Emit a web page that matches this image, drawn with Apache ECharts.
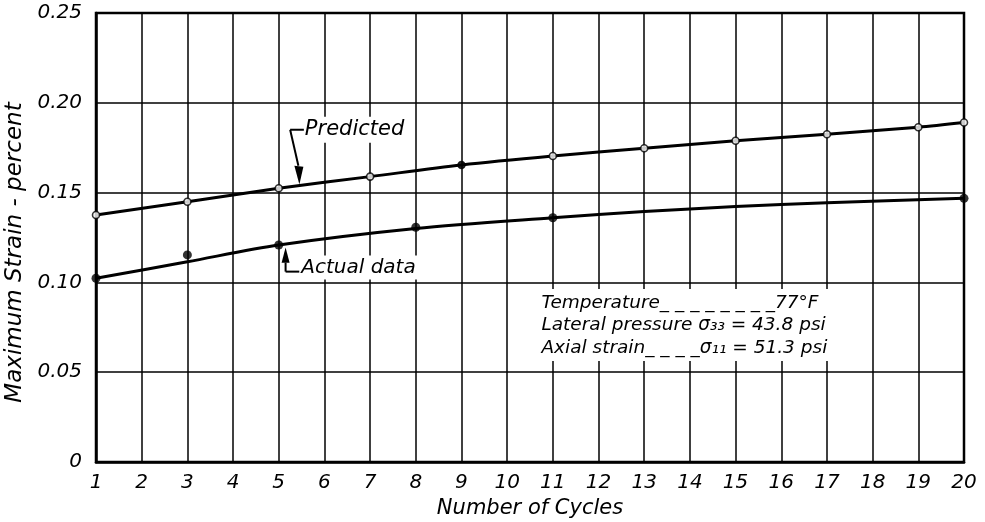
<!DOCTYPE html>
<html>
<head>
<meta charset="utf-8">
<script src="https://cdn.jsdelivr.net/npm/echarts@6/dist/echarts.min.js"></script>
<style>
html,body{margin:0;padding:0;background:#fff;}
#chart{width:985px;height:522px;}
</style>
</head>
<body>
<div id="chart"></div>
<script>
// ---- data ----
var cycleTicks = [1,2,3,4,5,6,7,8,9,10,11,12,13,14,15,16,17,18,19,20];
var strainTicks = [0, 0.05, 0.10, 0.15, 0.20, 0.25];
var predictedX = [1, 3, 5, 7, 9, 11, 13, 15, 17, 19, 20];
var predictedY = [0.1375, 0.1449, 0.1524, 0.1589, 0.1654, 0.1704, 0.1747, 0.1789, 0.1825, 0.1864, 0.1890];
var predictedFilled = [false, false, false, false, true, false, false, false, false, false, false];
var actualX = [1, 3, 5, 8, 11, 20];
var actualY = [0.1023, 0.1153, 0.1208, 0.1307, 0.1360, 0.1468];
var actualCurveX = [1, 3, 5, 8, 11, 13, 15, 17, 20];
var actualCurveY = [0.1023, 0.1115, 0.1208, 0.1300, 0.1360, 0.1395, 0.1422, 0.1443, 0.1468];
var labelPredicted = 'Predicted';
var labelActual = 'Actual data';
var noteLines = ['Temperature_ _ _ _ _ _ _ _77°F', 'Lateral pressure σ₃₃ = 43.8 psi', 'Axial strain_ _ _ _σ₁₁ = 51.3 psi'];

var FONT = 'DejaVu Sans';
function pairs(xs, ys){ return xs.map(function(x,i){ return [x, ys[i]]; }); }

var chart = echarts.init(document.getElementById('chart'), null, {renderer:'canvas'});
var option = {
  backgroundColor: '#fff',
  animation: false,
  grid: {left: 96, right: 21, top: 13, bottom: 60, containLabel: false, outerBoundsMode: 'none',
         show: true, borderColor: '#000', borderWidth: 2.5, backgroundColor: 'transparent'},
  xAxis: {
    type: 'value', min: cycleTicks[0], max: cycleTicks[cycleTicks.length-1], interval: 1,
    name: 'Number of Cycles', nameLocation: 'middle', nameGap: 36,
    nameTextStyle: {fontFamily: FONT, fontStyle: 'italic', fontSize: 21, color: '#000'},
    axisLine: {show: true, lineStyle: {color: '#000', width: 2.5}},
    axisTick: {show: false},
    axisLabel: {fontFamily: FONT, fontStyle: 'italic', fontSize: 20, color: '#000', margin: 11},
    splitLine: {show: true, lineStyle: {color: '#000', width: 1.5}}
  },
  yAxis: {
    type: 'value', min: strainTicks[0], max: strainTicks[strainTicks.length-1], interval: 0.05,
    name: 'Maximum Strain - percent', nameLocation: 'middle', nameGap: 56,
    nameTextStyle: {fontFamily: FONT, fontStyle: 'italic', fontSize: 23, color: '#000', padding: [0, 30, 0, 0]},
    axisLine: {show: true, lineStyle: {color: '#000', width: 2.5}},
    axisTick: {show: false},
    axisLabel: {fontFamily: FONT, fontStyle: 'italic', fontSize: 20, color: '#000', margin: 14,
      formatter: function(v){ return v === 0 ? '0' : v.toFixed(2); }},
    splitLine: {show: true, lineStyle: {color: '#000', width: 1.5}}
  },
  series: [
    {type: 'line', data: pairs(predictedX, predictedY), smooth: 0.3, showSymbol: false,
     lineStyle: {color: '#000', width: 3}, z: 3},
    {type: 'line', data: pairs(actualCurveX, actualCurveY), smooth: 0.3, showSymbol: false,
     lineStyle: {color: '#000', width: 3}, z: 3},
    {type: 'scatter', symbol: 'circle', symbolSize: 7, z: 5,
     data: predictedX.map(function(x,i){
       return {value: [x, predictedY[i]], itemStyle: predictedFilled[i] ? {color:'#000', borderColor:'#000', borderWidth:1.5} : {color:'#fff', borderColor:'#000', borderWidth:1.6}};
     })},
    {type: 'scatter', symbol: 'circle', symbolSize: 9, z: 5,
     itemStyle: {color: '#000'}, data: pairs(actualX, actualY)}
  ]
};
chart.setOption(option);

function px(x, y){ return chart.convertToPixel({gridIndex: 0}, [x, y]); }
var tStyle = {fontFamily: FONT, fontStyle: 'italic', fontSize: 20, fill: '#000'};
var g = [];
// Predicted leader
var pA = px(5.25, 0.1850), pB = px(5.55, 0.1850), pTip = px(5.43, 0.1545), pHead = px(5.43, 0.1650);
g.push({type:'rect', shape:{x:pA[0]-8, y:pA[1]-13, width:132, height:26}, style:{fill:'#fff'}, z:10});
g.push({type:'line', shape:{x1:pA[0], y1:pA[1], x2:pB[0], y2:pB[1]}, style:{stroke:'#000', lineWidth:2}, z:11});
g.push({type:'line', shape:{x1:pA[0], y1:pA[1], x2:pTip[0], y2:pHead[1]}, style:{stroke:'#000', lineWidth:2}, z:11});
g.push({type:'polygon', shape:{points:[[pTip[0]-4, pHead[1]], [pTip[0]+5, pHead[1]+1], [pTip[0]+1, pTip[1]]]}, style:{fill:'#000'}, z:11});
g.push({type:'text', x:pB[0]+1, y:pA[1], style:Object.assign({text:labelPredicted, verticalAlign:'middle'}, tStyle, {fontSize:21}), z:11});
// Actual leader
var aTip = px(5.15, 0.1195), aHead = px(5.15, 0.1110), aBot = px(5.15, 0.1060), aEnd = px(5.45, 0.1060);
g.push({type:'rect', shape:{x:aEnd[0], y:aBot[1]-16, width:122, height:24}, style:{fill:'#fff'}, z:10});
g.push({type:'line', shape:{x1:aTip[0], y1:aHead[1], x2:aBot[0], y2:aBot[1]}, style:{stroke:'#000', lineWidth:2}, z:11});
g.push({type:'line', shape:{x1:aBot[0], y1:aBot[1], x2:aEnd[0], y2:aEnd[1]}, style:{stroke:'#000', lineWidth:2}, z:11});
g.push({type:'polygon', shape:{points:[[aTip[0]-4, aHead[1]], [aTip[0]+4, aHead[1]], [aTip[0], aTip[1]]]}, style:{fill:'#000'}, z:11});
g.push({type:'text', x:aEnd[0]+2, y:aBot[1]-4, style:Object.assign({text:labelActual, verticalAlign:'middle'}, tStyle), z:11});
// Note box
var n0 = px(10.75, 0.0885);
g.push({type:'rect', shape:{x:n0[0]-4, y:n0[1]-14, width:298, height:72}, style:{fill:'#fff'}, z:10});
noteLines.forEach(function(t, i){
  g.push({type:'text', x:n0[0], y:n0[1] + i*22.5, style:Object.assign({text:t, verticalAlign:'middle'}, tStyle, {fontSize:18.5}), z:11});
});
chart.setOption({graphic: g});
</script>
</body>
</html>
